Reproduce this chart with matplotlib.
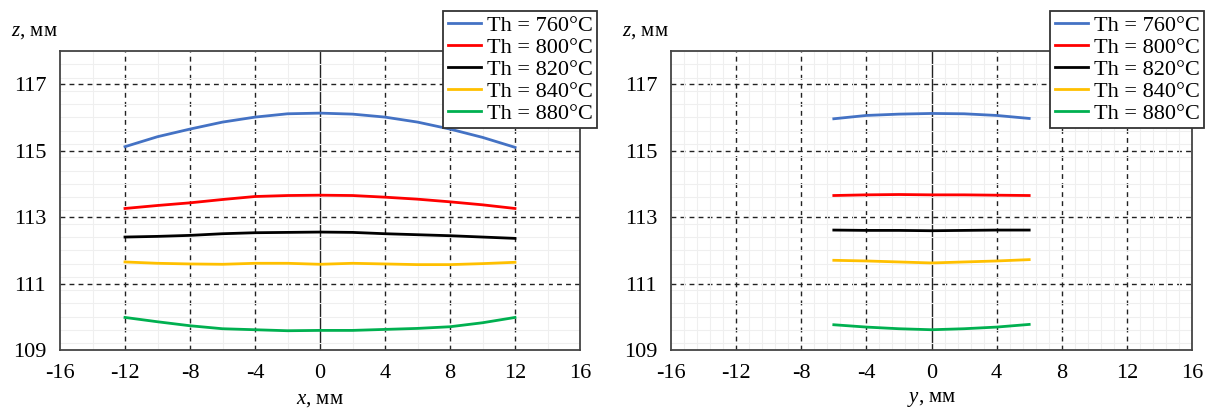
import matplotlib
matplotlib.use("Agg")
import matplotlib.pyplot as plt
from matplotlib.ticker import MultipleLocator
import numpy as np

plt.rcParams['font.family'] = ['Liberation Serif', 'DejaVu Serif']
plt.rcParams['mathtext.fontset'] = 'custom'
plt.rcParams['mathtext.rm'] = 'Liberation Serif'
plt.rcParams['mathtext.it'] = 'Liberation Serif:italic'
plt.rcParams['axes.unicode_minus'] = False

# профили вдоль x
x_pos = [-12, -10, -8, -6, -4, -2, 0, 2, 4, 6, 8, 10, 12]
z_x_760 = [115.12, 115.42, 115.65, 115.86, 116.01, 116.11, 116.13, 116.10, 116.01, 115.86, 115.65, 115.40, 115.10]
z_x_800 = [113.26, 113.35, 113.43, 113.53, 113.62, 113.65, 113.66, 113.65, 113.60, 113.54, 113.46, 113.37, 113.26]
z_x_820 = [112.40, 112.42, 112.45, 112.50, 112.53, 112.54, 112.55, 112.54, 112.50, 112.47, 112.44, 112.40, 112.36]
z_x_840 = [111.65, 111.61, 111.59, 111.58, 111.61, 111.61, 111.58, 111.61, 111.59, 111.57, 111.57, 111.60, 111.64]
z_x_880 = [109.98, 109.85, 109.73, 109.64, 109.61, 109.58, 109.59, 109.59, 109.62, 109.65, 109.70, 109.82, 109.98]

# профили вдоль y
y_pos = [-6, -4, -2, 0, 2, 4, 6]
z_y_760 = [115.96, 116.06, 116.10, 116.12, 116.11, 116.06, 115.97]
z_y_800 = [113.65, 113.67, 113.68, 113.67, 113.67, 113.66, 113.65]
z_y_820 = [112.61, 112.60, 112.60, 112.59, 112.60, 112.61, 112.61]
z_y_840 = [111.70, 111.68, 111.65, 111.62, 111.65, 111.68, 111.72]
z_y_880 = [109.76, 109.69, 109.64, 109.61, 109.64, 109.69, 109.77]

labels = ['Th = 760°C', 'Th = 800°C', 'Th = 820°C', 'Th = 840°C', 'Th = 880°C']
colors = ['#4472C4', '#FF0000', '#000000', '#FFC000', '#00B050']

W, H = 1205, 412
fig = plt.figure(figsize=(W / 100, H / 100), dpi=100)
ax1 = fig.add_axes([60 / W, 62 / H, 520 / W, 299 / H])
ax2 = fig.add_axes([671 / W, 62 / H, 521 / W, 299 / H])


def setup(ax, xminor, xlabel):
    ax.set_xlim(-16, 16)
    ax.set_ylim(109, 118)
    ax.xaxis.set_major_locator(MultipleLocator(4))
    ax.xaxis.set_minor_locator(MultipleLocator(xminor))
    ax.yaxis.set_minor_locator(MultipleLocator(0.4))
    ax.grid(which='minor', color='#efefef', linewidth=0.8)
    for v in [-12, -8, -4, 4, 8, 12]:
        ax.axvline(v, color='#222222', linestyle=(0, (3.5, 3)), linewidth=1.0, zorder=1)
    for v in [111, 113, 115, 117]:
        ax.axhline(v, color='#222222', linestyle=(0, (3.5, 3)), linewidth=1.0, zorder=1)
    ax.axvline(0, color='#222222', linewidth=1.0, zorder=1)
    ax.tick_params(which='both', length=0, labelsize=16, pad=10)
    ax.set_yticks([109, 111, 113, 115, 117])
    for s in ax.spines.values():
        s.set_color('#444444')
        s.set_linewidth(1.3)
    ax.set_xlabel(xlabel, fontsize=15, labelpad=5)
    ax.text(-0.095, 1.035, r'$z$, мм', transform=ax.transAxes, fontsize=15,
            ha='left', va='bottom')


setup(ax1, 2, r'$x$, мм')
setup(ax2, 0.8, r'$y$, мм')

for z, c, lab in zip([z_x_760, z_x_800, z_x_820, z_x_840, z_x_880], colors, labels):
    ax1.plot(x_pos, z, color=c, linewidth=2, label=lab, zorder=3)
for z, c, lab in zip([z_y_760, z_y_800, z_y_820, z_y_840, z_y_880], colors, labels):
    ax2.plot(y_pos, z, color=c, linewidth=2, label=lab, zorder=3)

for ax, right in [(ax1, 597), (ax2, 1204)]:
    h, l = ax.get_legend_handles_labels()
    leg = fig.legend(h, l, loc='upper right', bbox_to_anchor=(right / W, 1 - 11 / H),
                     fontsize=16, frameon=True, fancybox=False, framealpha=1,
                     edgecolor='#333333', handlelength=1.5, handletextpad=0.25,
                     labelspacing=0.06, borderpad=0.2, borderaxespad=0)
    leg.get_frame().set_linewidth(1.3)

fig.savefig('out.png', dpi=100)
